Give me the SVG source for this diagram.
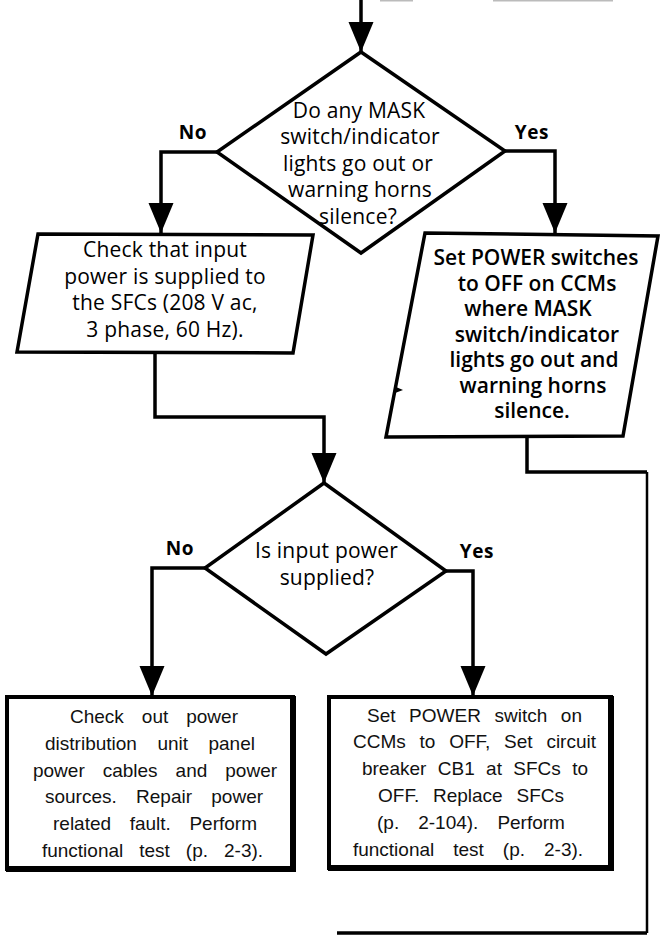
<svg xmlns="http://www.w3.org/2000/svg" width="666" height="936" viewBox="0 0 666 936">
  <style>
    .shape { fill: #fff; stroke: #000; stroke-width: 3.5; stroke-linejoin: miter; }
    .box { fill: #fff; stroke: #000; stroke-width: 4; }
    .shadow { fill: none; stroke: #000; stroke-width: 6; stroke-linecap: square; }
    .wire { fill: none; stroke: #000; stroke-width: 3.5; stroke-linejoin: miter; }
    .thin { fill: none; stroke: #000; stroke-width: 2.5; }
    .q { font-family: "Open Sans", "Noto Sans", sans-serif; font-size: 21px; text-anchor: middle; fill: #000; letter-spacing: 0.2px; }
    .act { font-family: "Open Sans", "Noto Sans", sans-serif; font-size: 21px; font-weight: 600; text-anchor: middle; fill: #000; }
    .lbl { font-family: "Open Sans", "Noto Sans", sans-serif; font-size: 19px; font-weight: 700; text-anchor: middle; fill: #000; letter-spacing: 0.6px; }
    .proc { font-family: "Liberation Sans", Arial, sans-serif; font-size: 19px; text-anchor: middle; fill: #111; }
  </style>
  <defs>
    <marker id="arrow" viewBox="0 -13 30 26" refX="30" refY="0" markerWidth="30" markerHeight="26" markerUnits="userSpaceOnUse" orient="auto">
      <path d="M0,-12.5 L30,0 L0,12.5 Z" fill="#000"/>
    </marker>
  </defs>

  <!-- faint rule along the top edge -->
  <path d="M380,0.8 H413 M493,0.8 H613" stroke="#bbb" stroke-width="1.6" fill="none"/>

  <!-- connectors -->
  <g id="connectors">
    <path class="wire" d="M361,0 V52" marker-end="url(#arrow)"/>
    <path class="wire" d="M217,152 H161 V233" marker-end="url(#arrow)"/>
    <path class="wire" d="M505,151 H555 V233" marker-end="url(#arrow)"/>
    <path class="wire" d="M155,353 V417 H324 V483" marker-end="url(#arrow)"/>
    <path class="wire" d="M205,568 H152 V696" marker-end="url(#arrow)"/>
    <path class="wire" d="M446,571 H473 V696" marker-end="url(#arrow)"/>
    <path class="wire" d="M527,436 V472 H647"/>
    <path class="thin" d="M647,472 V933"/>
    <path class="wire" d="M647,933 H337" stroke-width="4"/>
  </g>

  <!-- decision: lights / horns -->
  <g id="decision-lights">
    <polygon class="shape" points="361,52 505,151 361,253 217,152"/>
    <text class="q" x="359" y="118">Do any MASK</text>
    <text class="q" x="360" y="144.4">switch/indicator</text>
    <text class="q" x="358" y="170.8">lights go out or</text>
    <text class="q" x="360" y="197.2">warning horns</text>
    <text class="q" x="358" y="223.6">silence?</text>
    <text class="lbl" x="193" y="139">No</text>
    <text class="lbl" x="532" y="139">Yes</text>
  </g>

  <!-- check input power -->
  <g id="check-input">
    <polygon class="shape" points="38,234 313,235 293,353 17,352"/>
    <text class="q" x="165" y="257">Check that input</text>
    <text class="q" x="165" y="283.5">power is supplied to</text>
    <text class="q" x="165" y="310">the SFCs (208 V ac,</text>
    <text class="q" x="165" y="336.5">3 phase, 60 Hz).</text>
  </g>

  <!-- set power switches off -->
  <g id="set-switches">
    <polygon class="shape" points="425,233 658,236 623,436 386,437"/>
    <path d="M396,387 L403,390 L395,393 Z" fill="#000"/>
    <text class="act" x="536" y="265">Set POWER switches</text>
    <text class="act" x="537" y="290.5">to OFF on CCMs</text>
    <text class="act" x="528" y="316">where MASK</text>
    <text class="act" x="537" y="341.5">switch/indicator</text>
    <text class="act" x="534" y="367">lights go out and</text>
    <text class="act" x="533" y="392.5">warning horns</text>
    <text class="act" x="532" y="418">silence.</text>
  </g>

  <!-- decision: input power -->
  <g id="decision-power">
    <polygon class="shape" points="324,483 446,571 326,654 205,568"/>
    <text class="q" x="326.5" y="558">Is input power</text>
    <text class="q" x="327" y="585">supplied?</text>
    <text class="lbl" x="180" y="555">No</text>
    <text class="lbl" x="477" y="558">Yes</text>
  </g>

  <!-- repair power fault -->
  <g id="repair-power">
    <rect class="box" x="7" y="697" width="286" height="172"/>
    <path class="shadow" d="M9,869 H293 V699"/>
    <text class="proc" x="154" y="723" word-spacing="12.7">Check out power</text>
    <text class="proc" x="150" y="750" word-spacing="15.2">distribution unit panel</text>
    <text class="proc" x="155" y="777" word-spacing="12.7">power cables and power</text>
    <text class="proc" x="154" y="803" word-spacing="14">sources. Repair power</text>
    <text class="proc" x="155" y="830" word-spacing="13.3">related fault. Perform</text>
    <text class="proc" x="152.5" y="857" word-spacing="10.7">functional test (p. 2-3).</text>
  </g>

  <!-- replace SFCs -->
  <g id="replace-sfcs">
    <rect class="box" x="329" y="697" width="282" height="171"/>
    <path class="shadow" d="M331,868 H611 V699"/>
    <text class="proc" x="474.5" y="722" word-spacing="8.3">Set POWER switch on</text>
    <text class="proc" x="474.5" y="748" word-spacing="8.5">CCMs to OFF, Set circuit</text>
    <text class="proc" x="475" y="775" word-spacing="6.1">breaker CB1 at SFCs to</text>
    <text class="proc" x="471" y="802" word-spacing="8.5">OFF. Replace SFCs</text>
    <text class="proc" x="471" y="829" word-spacing="13.7">(p. 2-104). Perform</text>
    <text class="proc" x="468" y="856" word-spacing="13.7">functional test (p. 2-3).</text>
  </g>
</svg>
